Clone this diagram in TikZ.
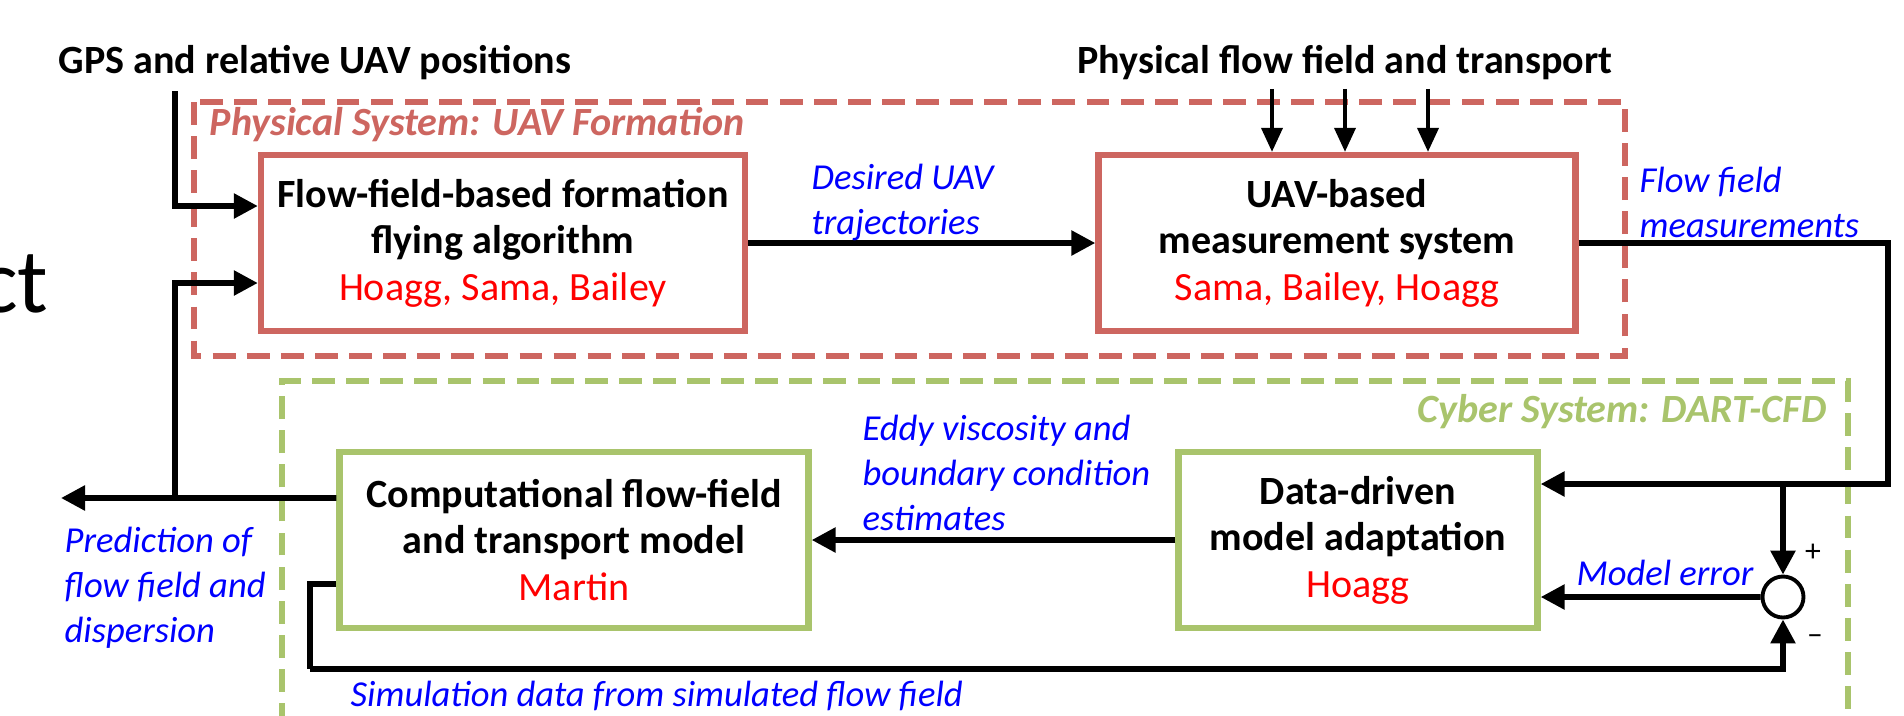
\documentclass[tikz,border=0pt]{standalone}
\usepackage{fontspec}
\setmainfont{Carlito}
\usepackage{tikz}
\usetikzlibrary{arrows.meta}
\definecolor{physred}{RGB}{205,102,96}
\definecolor{cybergreen}{RGB}{169,196,108}
\definecolor{namered}{RGB}{255,0,0}
\definecolor{labelblue}{RGB}{0,0,255}

\begin{document}
\begin{tikzpicture}[
    physbox/.style={draw=physred,line width=1.8pt,fill=white,align=center,
      font=\fontsize{11.4}{13.2}\selectfont\bfseries,minimum height=1.76cm},
    cyberbox/.style={draw=cybergreen,line width=1.8pt,fill=white,align=center,
      font=\fontsize{11.4}{13.2}\selectfont\bfseries,minimum height=1.76cm},
    frame/.style={line width=1.5pt,dash pattern=on 6.5pt off 3.2pt},
    flow/.style={line width=1.6pt,-{Triangle[length=2.4mm,width=2.4mm]}},
    thinflow/.style={line width=1.1pt,-{Triangle[length=2.4mm,width=2.1mm]}},
    lbl/.style={text=labelblue,align=left,font=\fontsize{10.4}{12.8}\selectfont\itshape,inner sep=0pt},
    heading/.style={font=\fontsize{11.4}{13.2}\selectfont\bfseries,inner sep=0pt}]
  \useasboundingbox (0,0) rectangle (19.04,-7.15);
  % cut-off slide title at the left edge
  \node[anchor=base east,font=\fontsize{26}{28}\selectfont,inner sep=0pt] (slidetitle) at (0.49,-3.12) {ct};
  % dashed system frames
  \draw[frame,draw=physred] (1.94,-1.02) rectangle (16.25,-3.56);
  \node[anchor=west,text=physred,font=\fontsize{11.4}{13.2}\selectfont\bfseries\itshape,inner sep=0pt]
    (phystitle) at (2.09,-1.25) {Physical System: UAV Formation};
  \draw[frame,draw=cybergreen] (2.82,-7.6) -- (2.82,-3.81) -- (18.48,-3.81) -- (18.48,-7.6);
  \node[anchor=east,text=cybergreen,font=\fontsize{11.4}{13.2}\selectfont\bfseries\itshape,inner sep=0pt]
    (cybertitle) at (18.27,-4.12) {Cyber System: DART-CFD};
  % external inputs
  \node[heading] (gps) at (3.15,-0.63) {GPS and relative UAV positions};
  \node[heading] (physin) at (13.45,-0.63) {Physical flow field and transport};
  % blocks
  \node[physbox,minimum width=4.84cm] (algo) at (5.03,-2.43)
    {Flow-field-based formation\\flying algorithm\\{\mdseries\color{namered}Hoagg, Sama, Bailey}};
  \node[physbox,minimum width=4.77cm] (meas) at (13.37,-2.43)
    {UAV-based\\measurement system\\{\mdseries\color{namered}Sama, Bailey, Hoagg}};
  \node[cyberbox,minimum width=4.69cm] (model) at (5.74,-5.40)
    {Computational flow-field\\and transport model\\{\mdseries\color{namered}Martin}};
  \node[cyberbox,minimum width=3.59cm] (adapt) at (13.58,-5.40)
    {Data-driven\\model adaptation\\{\mdseries\color{namered}Hoagg}};
  \node[draw,circle,line width=1.1pt,minimum size=0.41cm,inner sep=0pt] (sum) at (17.83,-5.97) {};
  \node[font=\small,inner sep=0pt] (plus) at (18.13,-5.53) {+};
  \node[font=\small,inner sep=0pt] (minus) at (18.15,-6.40) {--};
  % helper points
  \coordinate (gpsdrop) at (1.75,-0.91);
  \coordinate (predout) at (0.61,-4.98);
  \coordinate (tap) at (1.75,-4.98);
  \coordinate (measturn) at (18.88,-2.43);
  \coordinate (split) at (17.83,-4.84);
  \coordinate (simleft) at (3.10,-6.69);
  % connectors
  \draw[flow] (gpsdrop) |- ([yshift=3.7mm]algo.west);
  \foreach \dx in {-0.65,0.08,0.91}
    \draw[thinflow] ([xshift=\dx cm,yshift=6.3mm]meas.north) -- ([xshift=\dx cm]meas.north);
  \draw[flow] (algo) -- (meas);
  \draw[flow] (meas.east) -- (measturn) |- ([yshift=5.6mm]adapt.east);
  \draw[flow] (split) -- (sum.north);
  \draw[flow] (sum) -- ([yshift=-5.7mm]adapt.east);
  \draw[flow] (adapt) -- (model);
  \draw[flow] ([yshift=4.2mm]model.west) -- (predout);
  \draw[flow] (tap) |- ([yshift=-4mm]algo.west);
  \draw[line width=1.6pt] ([yshift=-4.4mm]model.west) -| (simleft);
  \draw[line width=1.6pt] (simleft) -| ([yshift=-4.5mm]sum.south);
  \draw[flow] ([yshift=-4.5mm]sum.south) -- (sum.south);
  % signal labels
  \node[lbl,anchor=west] (desired) at (8.11,-2.02) {Desired UAV\\trajectories};
  \node[lbl,anchor=west] (measlbl) at (16.39,-2.02) {Flow field\\measurements};
  \node[lbl,anchor=west] (eddy) at (8.62,-4.73) {Eddy viscosity and\\boundary condition\\estimates};
  \node[lbl,anchor=west] (pred) at (0.64,-5.88) {Prediction of\\flow field and\\dispersion};
  \node[lbl,anchor=south east] (errlbl) at (17.54,-5.86) {Model error};
  \node[lbl,anchor=west] (simlbl) at (3.50,-6.96) {Simulation data from simulated flow field};
\end{tikzpicture}
\end{document}
